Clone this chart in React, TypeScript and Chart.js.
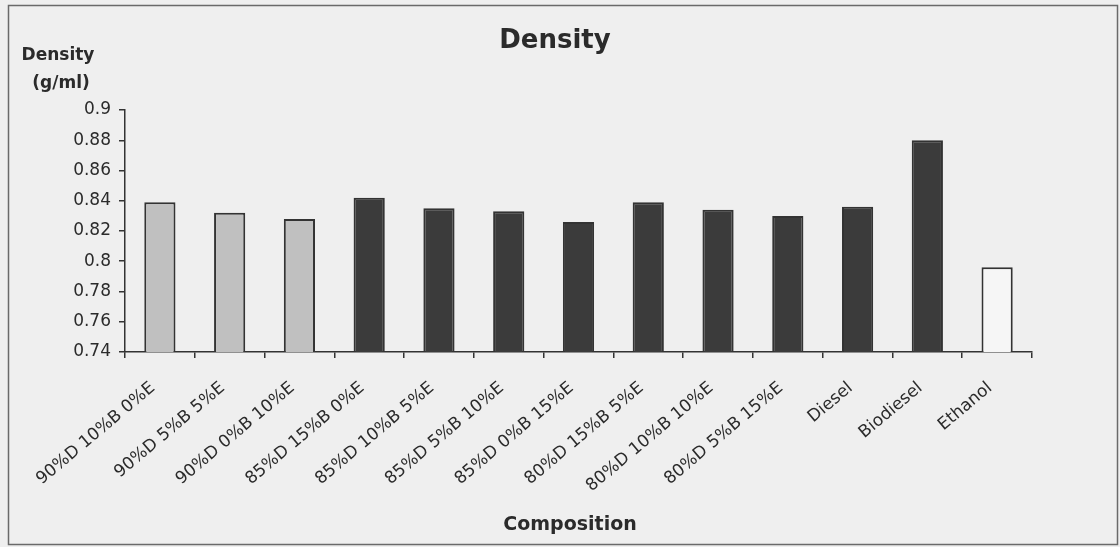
import React, { useEffect, useRef } from "react";
import { Chart, registerables } from "chart.js";

Chart.register(...registerables);

const categories = [
  "90%D 10%B 0%E",
  "90%D 5%B 5%E",
  "90%D 0%B 10%E",
  "85%D 15%B 0%E",
  "85%D 10%B 5%E",
  "85%D 5%B 10%E",
  "85%D 0%B 15%E",
  "80%D 15%B 5%E",
  "80%D 10%B 10%E",
  "80%D 5%B 15%E",
  "Diesel",
  "Biodiesel",
  "Ethanol",
];

const densities = [0.839, 0.832, 0.828, 0.842, 0.835, 0.833, 0.826, 0.839, 0.834, 0.83, 0.836, 0.88, 0.796];

const barGroups = ["light", "light", "light", "dark", "dark", "dark", "dark", "dark", "dark", "dark", "dark", "dark", "white"];

const yTicks = [0.74, 0.76, 0.78, 0.8, 0.82, 0.84, 0.86, 0.88, 0.9];

const chartTitle = "Density";
const yTitleLines = ["Density", "(g/ml)"];
const xTitle = "Composition";

const groupFill: Record<string, string> = { light: "#c0c0c0", dark: "#3b3b3b", white: "#f6f6f6" };
const groupBorder: Record<string, string> = { light: "#333333", dark: "#333333", white: "#333333" };

const FONT = "'DejaVu Sans', 'Liberation Sans', Arial, sans-serif";
const TEXT = "#2b2b2b";

const framePlugin = {
  id: "frame",
  beforeDraw(chart: any) {
    const { ctx, width, height } = chart;
    ctx.save();
    ctx.fillStyle = "#efefef";
    ctx.fillRect(0, 0, width, height);
    ctx.strokeStyle = "#6a6a6a";
    ctx.lineWidth = 1.5;
    ctx.strokeRect(8.5, 5.5, width - 11, height - 8);
    ctx.restore();
  },
  afterDraw(chart: any) {
    const { ctx } = chart;
    ctx.save();
    ctx.fillStyle = TEXT;
    ctx.textAlign = "center";
    ctx.textBaseline = "middle";
    ctx.font = `bold 26px ${FONT}`;
    ctx.fillText(chartTitle, 555, 41);
    ctx.font = `bold 17px ${FONT}`;
    ctx.fillText(yTitleLines[0], 58, 56);
    ctx.fillText(yTitleLines[1], 61, 84);
    ctx.font = `bold 19px ${FONT}`;
    ctx.fillText(xTitle, 570, 525);
    ctx.restore();
  },
};

export default function App() {
  const ref = useRef<HTMLCanvasElement>(null);
  useEffect(() => {
    if (!ref.current) return;
    const chart = new Chart(ref.current, {
      type: "bar",
      data: {
        labels: categories,
        datasets: [
          {
            label: "Density",
            data: densities,
            backgroundColor: barGroups.map((g) => groupFill[g]),
            borderColor: barGroups.map((g) => groupBorder[g]),
            borderWidth: 2,
            categoryPercentage: 0.86,
            barPercentage: 0.52,
          },
        ],
      },
      options: {
        responsive: false,
        animation: false,
        devicePixelRatio: 1,
        layout: { padding: { left: 0, right: 88, top: 110, bottom: 0 } },
        plugins: {
          legend: { display: false },
          tooltip: { enabled: false },
          title: { display: false },
        },
        scales: {
          x: {
            offset: true,
            grid: {
              offset: true,
              drawOnChartArea: false,
              drawTicks: true,
              tickLength: 6,
              color: "#333",
              lineWidth: 1.5,
            },
            border: { display: true, color: "#333", width: 1.5 },
            ticks: {
              minRotation: 40,
              maxRotation: 40,
              autoSkip: false,
              color: TEXT,
              padding: 20,
              labelOffset: -7,
              font: { family: FONT, size: 17 },
            },
            afterFit(scale: any) {
              scale.height = 195;
            },
          },
          y: {
            min: 0.74,
            max: 0.9,
            afterBuildTicks(scale: any) {
              scale.ticks = yTicks.map((v) => ({ value: v }));
            },
            grid: {
              drawOnChartArea: false,
              drawTicks: true,
              tickLength: 6,
              color: "#333",
              lineWidth: 1.5,
            },
            border: { display: true, color: "#333", width: 1.5 },
            ticks: {
              color: TEXT,
              padding: 8,
              font: { family: FONT, size: 17 },
              callback: (v: any) => String(Number(Number(v).toFixed(2))),
            },
            afterFit(scale: any) {
              scale.width = 125;
            },
          },
        },
      },
      plugins: [framePlugin],
    } as any);
    return () => chart.destroy();
  }, []);
  return (
    <div style={{ position: "fixed", left: 0, top: 0, width: 1120, height: 547 }}>
      <canvas ref={ref} width={1120} height={547} style={{ display: "block", width: 1120, height: 547 }} />
    </div>
  );
}
